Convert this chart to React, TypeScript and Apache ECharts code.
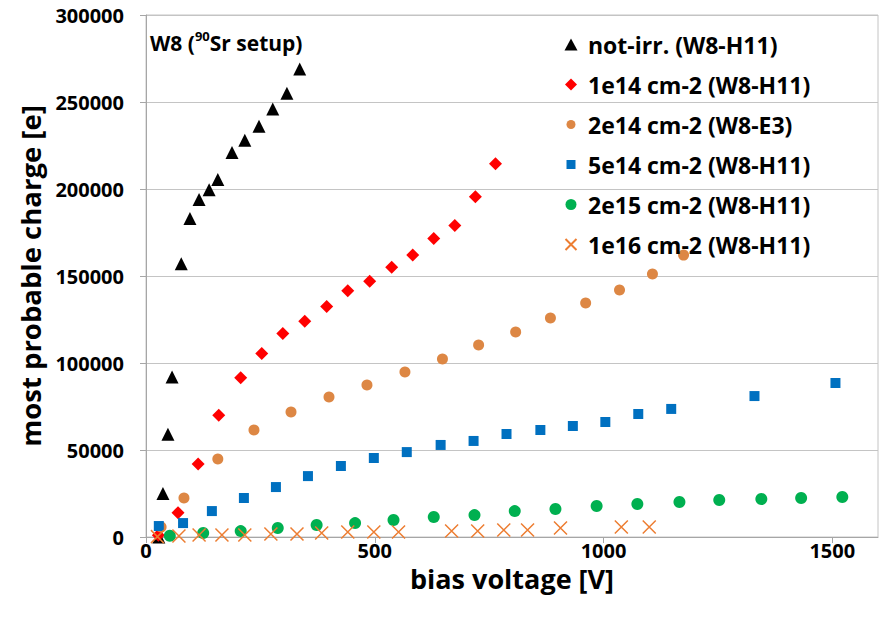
import React, { useEffect, useRef } from 'react';
import * as echarts from 'echarts';

const FONT = "'Open Sans', 'DejaVu Sans', sans-serif";

const seriesNames = [
  'not-irr. (W8-H11)',
  '1e14 cm-2 (W8-H11)',
  '2e14 cm-2 (W8-E3)',
  '5e14 cm-2 (W8-H11)',
  '2e15 cm-2 (W8-H11)',
  '1e16 cm-2 (W8-H11)',
];

const notIrrX = [28, 37, 48, 57, 77, 96, 116, 138, 157, 188, 216, 247, 277, 308, 336];
const notIrrY = [0, 25000, 59000, 92000, 157000, 183000, 194000, 199500, 205500, 221000, 228000, 236000, 246000, 255000, 269000];

const f1e14X = [27, 70, 114, 159, 207, 253, 299, 347, 395, 441, 489, 537, 583, 629, 675, 720, 764];
const f1e14Y = [1000, 14000, 42000, 70000, 91500, 105500, 117000, 124000, 132500, 141500, 147000, 155000, 162000, 171500, 179000, 195500, 214500];

const f2e14X = [33, 83, 157, 236, 317, 400, 483, 566, 648, 727, 808, 884, 961, 1035, 1107, 1175];
const f2e14Y = [5700, 22400, 44800, 61500, 71800, 80500, 87400, 94800, 102300, 110300, 117800, 125900, 134500, 141900, 151100, 162000];

const f5e14X = [28, 81, 144, 214, 284, 354, 426, 498, 570, 644, 716, 788, 862, 933, 1004, 1076, 1148, 1330, 1507];
const f5e14Y = [6300, 8000, 14900, 22400, 28700, 35000, 40800, 45400, 48800, 52900, 55200, 59200, 61500, 63800, 66100, 70700, 73600, 81000, 88500];

const f2e15X = [52, 125, 207, 288, 373, 457, 541, 629, 718, 806, 895, 985, 1074, 1166, 1253, 1345, 1432, 1522];
const f2e15Y = [700, 2300, 3400, 5200, 6900, 8000, 9800, 11500, 12600, 14900, 16100, 17800, 19000, 20100, 21300, 21800, 22400, 23000];

const f1e16X = [25, 72, 116, 166, 216, 273, 330, 384, 441, 498, 552, 668, 725, 782, 834, 906, 1039, 1100];
const f1e16Y = [200, 600, 1100, 1100, 1100, 1700, 1700, 2300, 2900, 2900, 2900, 3400, 3400, 4000, 4000, 5200, 5700, 5700];

const yTicks = [0, 50000, 100000, 150000, 200000, 250000, 300000];
const xTicks = [0, 500, 1000, 1500];

const colors = ['#000000', '#ff0000', '#dd8744', '#0070c0', '#00b050', '#ed7d31'];

const X_PATH = 'path://M0,0L10,10M10,0L0,10';

const legendIcons = [
  'path://M0,0M14,14M7,1L13.5,13L0.5,13Z',
  'path://M0,0M14,14M7,1L13,7L7,13L1,7Z',
  'path://M0,0M14,14M2.5,7A4.5,4.5,0,1,1,11.5,7A4.5,4.5,0,1,1,2.5,7Z',
  'path://M0,0M14,14M2.5,2.5L11.5,2.5L11.5,11.5L2.5,11.5Z',
  'path://M0,0M14,14M1.5,7A5.5,5.5,0,1,1,12.5,7A5.5,5.5,0,1,1,1.5,7Z',
  'path://M0,0M14,14M1.5,1.5L12.5,12.5M12.5,1.5L1.5,12.5',
];

const zip = (xs: number[], ys: number[]) => xs.map((x, i) => [x, ys[i]]);

export default function App() {
  const ref = useRef<HTMLDivElement>(null);
  useEffect(() => {
    const chart = echarts.init(ref.current!, null, { renderer: 'svg' });
    const option: any = {
      animation: false,
      backgroundColor: '#ffffff',
      grid: {
        left: 146,
        right: 7,
        top: 15,
        bottom: 90,
        show: true,
        borderColor: '#c4c4c4',
        borderWidth: 1,
      },
      xAxis: {
        type: 'value',
        min: 0,
        max: 1600,
        interval: 500,
        name: 'bias voltage [V]',
        nameLocation: 'middle',
        nameGap: 26,
        nameTextStyle: { fontFamily: FONT, fontWeight: 'bold', fontSize: 27, color: '#000' },
        axisLine: { show: true, lineStyle: { color: '#a6a6a6' } },
        axisTick: { show: true, length: 6, lineStyle: { color: '#a6a6a6' } },
        splitLine: { show: false },
        axisLabel: {
          fontFamily: FONT,
          fontWeight: 'bold',
          fontSize: 20,
          color: '#000',
          margin: 3,
          showMaxLabel: false,
          formatter: (v: number) => (xTicks.includes(v) ? String(v) : ''),
        },
      },
      yAxis: {
        type: 'value',
        min: 0,
        max: 300000,
        interval: 50000,
        name: 'most probable charge [e]',
        nameLocation: 'middle',
        nameGap: 98,
        nameTextStyle: { fontFamily: FONT, fontWeight: 'bold', fontSize: 27.5, color: '#000' },
        axisLine: { show: true, lineStyle: { color: '#a6a6a6' } },
        axisTick: { show: true, length: 6, lineStyle: { color: '#a6a6a6' } },
        splitLine: { show: true, lineStyle: { color: '#c4c4c4', width: 1 } },
        axisLabel: {
          fontFamily: FONT,
          fontWeight: 'bold',
          fontSize: 20,
          color: '#000',
          margin: 22,
          formatter: (v: number) => (yTicks.includes(v) ? String(v) : ''),
        },
      },
      legend: {
        orient: 'vertical',
        left: 563,
        top: 33,
        padding: 0,
        itemGap: 17,
        itemWidth: 24,
        itemHeight: 14,
        textStyle: { fontFamily: FONT, fontWeight: 'bold', fontSize: 23, color: '#000' },
        data: seriesNames.map((n, i) => ({ name: n, icon: legendIcons[i] })),
      },
      graphic: [
        {
          type: 'text',
          left: 150,
          top: 29,
          style: {
            text: '{a|W8 (}{b|90}{a|Sr setup)}',
            rich: {
              a: { fontFamily: FONT, fontWeight: 'bold', fontSize: 21, lineHeight: 28, fill: '#000' },
              b: { fontFamily: FONT, fontWeight: 'bold', fontSize: 13, lineHeight: 16, verticalAlign: 'top', fill: '#000' },
            },
          },
        },
      ],
      series: [
        { name: seriesNames[0], type: 'scatter', symbol: 'triangle', symbolSize: 13, itemStyle: { color: colors[0], opacity: 1 }, data: zip(notIrrX, notIrrY) },
        { name: seriesNames[1], type: 'scatter', symbol: 'diamond', symbolSize: 13, itemStyle: { color: colors[1], opacity: 1 }, data: zip(f1e14X, f1e14Y) },
        { name: seriesNames[2], type: 'scatter', symbol: 'circle', symbolSize: 11, itemStyle: { color: colors[2], opacity: 1 }, data: zip(f2e14X, f2e14Y) },
        { name: seriesNames[3], type: 'scatter', symbol: 'rect', symbolSize: 10, itemStyle: { color: colors[3], opacity: 1 }, data: zip(f5e14X, f5e14Y) },
        { name: seriesNames[4], type: 'scatter', symbol: 'circle', symbolSize: 12, itemStyle: { color: colors[4], opacity: 1 }, data: zip(f2e15X, f2e15Y) },
        {
          name: seriesNames[5],
          type: 'scatter',
          symbol: X_PATH,
          symbolSize: 13,
          itemStyle: { color: colors[5], borderColor: colors[5], borderWidth: 1.5, opacity: 1 },
          data: zip(f1e16X, f1e16Y),
        },
      ],
    };
    chart.setOption(option);
    return () => chart.dispose();
  }, []);
  return (
    <div
      ref={ref}
      style={{ position: 'fixed', left: 0, top: 0, width: 885, height: 627, background: '#fff' }}
    />
  );
}
